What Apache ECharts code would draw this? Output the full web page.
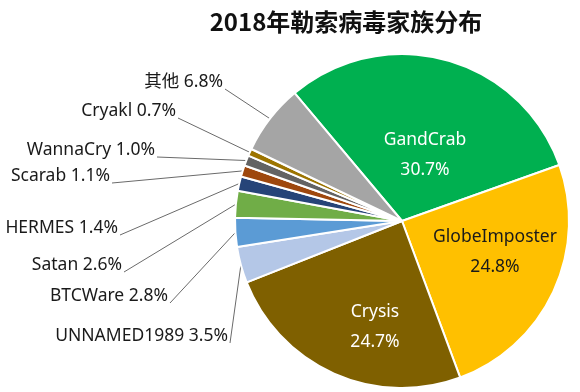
<!DOCTYPE html>
<html>
<head>
<meta charset="utf-8">
<script src="https://cdn.jsdelivr.net/npm/echarts@6/dist/echarts.min.js"></script>
<style>html,body{margin:0;padding:0;background:#fff;}#c{width:580px;height:392px;}</style>
</head>
<body>
<div id="c"></div>
<script>
const titleText = '2018年勒索病毒家族分布';
const categories = ['GandCrab', 'GlobeImposter', 'Crysis', 'UNNAMED1989', 'BTCWare', 'Satan', 'HERMES', 'Scarab', 'WannaCry', 'Cryakl', '其他'];
const values = [30.7, 24.8, 24.7, 3.5, 2.8, 2.6, 1.4, 1.1, 1.0, 0.7, 6.8];
const colors = ['#00B050', '#FFC000', '#7F6000', '#B4C7E7', '#5B9BD5', '#70AD47', '#264478', '#9E480E', '#636363', '#9C7400', '#A5A5A5'];
const insideCount = 3;
const insideTextColors = ['#ffffff', '#1a1a1a', '#ffffff'];
// label anchor positions (layout): inside -> center; outside -> right edge, middle
const labelAnchors = [[425, 155], [495, 252], [375, 327], [228, 336], [168, 296], [122, 265], [118, 228], [110, 176], [155, 150], [176, 111], [223, 82]];

const font = '"Noto Sans", "Noto Sans CJK SC", sans-serif';
const data = categories.map((name, i) => {
  const inside = i < insideCount;
  return {
    name: name,
    value: values[i],
    itemStyle: { color: colors[i] },
    label: inside ? {
      position: 'inside',
      color: insideTextColors[i],
      lineHeight: 30,
      formatter: p => p.name + '\n' + p.value.toFixed(1) + '%'
    } : {
      position: 'outside',
      color: '#1a1a1a',
      formatter: p => p.name + ' ' + p.value.toFixed(1) + '%'
    },
    labelLine: { show: !inside }
  };
});

const chart = echarts.init(document.getElementById('c'), null, { renderer: 'canvas' });
chart.setOption({
  animation: false,
  title: {
    text: titleText,
    left: 341,
    top: 5,
    textAlign: 'center',
    textStyle: { fontSize: 24, fontWeight: 'bold', color: '#111', fontFamily: '"Noto Sans CJK SC", sans-serif' }
  },
  series: [{
    type: 'pie',
    center: [402, 221],
    radius: [0, 167],
    startAngle: 130,
    clockwise: true,
    avoidLabelOverlap: false,
    itemStyle: { borderColor: '#ffffff', borderWidth: 2 },
    label: { fontSize: 17.5, fontFamily: font },
    labelLine: { lineStyle: { color: '#6a6a6a', width: 1 }, length: 10, length2: 10 },
    labelLayout: function (params) {
      const i = params.dataIndex;
      const a = labelAnchors[i];
      if (i < insideCount) {
        return { x: a[0], y: a[1], align: 'center', verticalAlign: 'middle' };
      }
      const p0 = params.labelLinePoints ? params.labelLinePoints[0] : [a[0], a[1]];
      const end = [a[0] + 2, a[1] + 7];
      return {
        x: a[0], y: a[1], align: 'right', verticalAlign: 'middle',
        labelLinePoints: [p0, end, end]
      };
    },
    data: data
  }]
});
</script>
</body>
</html>
